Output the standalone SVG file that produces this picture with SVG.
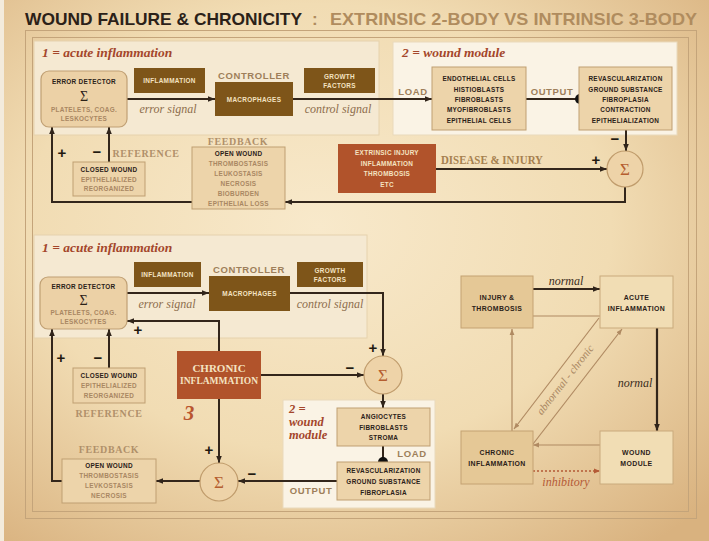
<svg xmlns="http://www.w3.org/2000/svg" width="709" height="541" viewBox="0 0 709 541">
  <defs>
    <radialGradient id="parchment" cx="0.45" cy="0.42" r="0.75">
      <stop offset="0" stop-color="#f8e9cb"/>
      <stop offset="0.55" stop-color="#f1dcb3"/>
      <stop offset="1" stop-color="#d9b27f"/>
    </radialGradient>
    <marker id="ah" viewBox="0 0 10 10" refX="10" refY="5" markerWidth="7" markerHeight="7" orient="auto" markerUnits="userSpaceOnUse">
      <path d="M0,1 L10,5 L0,9 z" fill="#30241a"/>
    </marker>
    <marker id="aht" viewBox="0 0 10 10" refX="10" refY="5" markerWidth="6" markerHeight="6" orient="auto" markerUnits="userSpaceOnUse">
      <path d="M0,1 L10,5 L0,9 z" fill="#b08a62"/>
    </marker>
    <marker id="ahr" viewBox="0 0 10 10" refX="10" refY="5" markerWidth="6" markerHeight="6" orient="auto" markerUnits="userSpaceOnUse">
      <path d="M0,1 L10,5 L0,9 z" fill="#b45a36"/>
    </marker>
    <style>
      .title { font-family: "Liberation Sans", Arial, sans-serif; font-weight: bold; font-size: 17px; }
      .sm { font-family: "Liberation Sans", Arial, sans-serif; font-weight: bold; font-size: 6.4px; letter-spacing: 0.3px; text-anchor: middle; }
      .dk { fill: #2b2118; }
      .tn { fill: #a98762; }
      .cr { fill: #f4e3c2; }
      .hd { font-family: "Liberation Sans", Arial, sans-serif; font-weight: bold; font-size: 9.5px; letter-spacing: 0.6px; fill: #9e7f5a; text-anchor: middle; }
      .sh { font-family: "Liberation Serif", "Times New Roman", serif; font-weight: bold; font-size: 10px; letter-spacing: 0.6px; fill: #b0906a; text-anchor: middle; }
      .it { font-family: "Liberation Serif", "Times New Roman", serif; font-style: italic; font-size: 12px; fill: #8e6e4d; text-anchor: middle; }
      .mod { font-family: "Liberation Serif", "Times New Roman", serif; font-style: italic; font-weight: bold; font-size: 13.5px; fill: #a4462b; }
      .modsm { font-family: "Liberation Serif", "Times New Roman", serif; font-style: italic; font-weight: bold; font-size: 12.5px; fill: #a4462b; }
      .sig { font-family: "Liberation Sans", Arial, sans-serif; font-weight: bold; font-size: 15px; fill: #22190f; text-anchor: middle; }
      .sum { font-family: "Liberation Serif", "Times New Roman", serif; font-size: 17px; fill: #b55e30; text-anchor: middle; }
      .sumd { font-family: "Liberation Serif", "Times New Roman", serif; font-size: 14px; fill: #2b2118; text-anchor: middle; }
      .box { fill: #edd4aa; stroke: #bf9f72; stroke-width: 1; }
      .brown { fill: #7e5519; }
      .rust { fill: #b1532b; }
      .det { fill: #ecd1a6; stroke: #c0a074; stroke-width: 1.2; }
      .circ { fill: #eed3a8; stroke: #c09c6c; stroke-width: 1.2; }
      .wire { fill: none; stroke: #33261b; stroke-width: 2; }
      .thin { fill: none; stroke: #b08a62; stroke-width: 1.2; }
      .gdark { fill: #e5c896; stroke: #c4a272; stroke-width: 1; }
      .glight { fill: #f1ddb4; stroke: #c9aa7c; stroke-width: 1; }
      .gt { font-family: "Liberation Sans", Arial, sans-serif; font-weight: bold; font-size: 6.9px; letter-spacing: 0.4px; fill: #2b2118; text-anchor: middle; }
    </style>
  </defs>

  <!-- paper and frame -->
  <rect x="0" y="0" width="709" height="541" fill="url(#parchment)"/>
  <rect x="0" y="0" width="4" height="541" fill="#f3ebdc"/>
  <g id="frame" fill="none" stroke="#c4a47a" stroke-width="1">
    <rect x="25.5" y="30.5" width="671" height="488"/>
    <rect x="32.5" y="37.5" width="656" height="474"/>
  </g>

  <!-- heading -->
  <g id="heading">
    <text class="title" x="25" y="25" fill="#2b2118" textLength="277" lengthAdjust="spacingAndGlyphs">WOUND FAILURE &amp; CHRONICITY</text>
    <text class="title" x="312" y="25" fill="#b08c5e">:</text>
    <text class="title" x="330" y="25" fill="#b08c5e" textLength="367" lengthAdjust="spacingAndGlyphs">EXTRINSIC 2-BODY  VS  INTRINSIC 3-BODY</text>
  </g>

  <!-- module panels -->
  <g id="panels">
    <rect x="34" y="41" width="345" height="94" fill="#f5e9d2" stroke="#e6d2ad" stroke-width="1"/>
    <rect x="393" y="42" width="284" height="93" fill="#faf3e5" stroke="#e9d9bb" stroke-width="1"/>
    <rect x="34" y="235" width="333" height="103" fill="#f5e9d2" stroke="#e6d2ad" stroke-width="1"/>
    <rect x="283" y="400" width="152" height="108" fill="#faf3e5" stroke="#e9d9bb" stroke-width="1"/>
    <text class="mod" x="42" y="57">1 = acute inflammation</text>
    <text class="mod" x="402" y="57">2 = wound module</text>
    <text class="mod" x="42" y="252">1 = acute inflammation</text>
    <text class="modsm" x="289" y="413">2 =</text>
    <text class="modsm" x="289" y="426">wound</text>
    <text class="modsm" x="289" y="439">module</text>
  </g>

  <!-- connectors -->
  <g id="connectors">
    <!-- extrinsic loop -->
    <path class="wire" d="M127,99 H215" marker-end="url(#ah)"/>
    <path class="wire" d="M293,99 H432" marker-end="url(#ah)"/>
    <path class="wire" d="M526,99 H578"/>
    <path class="wire" d="M626,130 V151" marker-end="url(#ah)"/>
    <path class="wire" d="M436,169 H607" marker-end="url(#ah)"/>
    <path class="wire" d="M625,187 V202 H285" marker-end="url(#ah)"/>
    <path class="wire" d="M192,202 H52 V127" marker-end="url(#ah)"/>
    <path class="wire" d="M109,162 V127" marker-end="url(#ah)"/>
    <!-- intrinsic loop -->
    <path class="wire" d="M127,293 H209" marker-end="url(#ah)"/>
    <path class="wire" d="M290,293 H383 V356" marker-end="url(#ah)"/>
    <path class="wire" d="M261,375 H364" marker-end="url(#ah)"/>
    <path class="wire" d="M219,351 V321 H127" marker-end="url(#ah)"/>
    <path class="wire" d="M219,399 V463" marker-end="url(#ah)"/>
    <path class="wire" d="M383,394 V408" marker-end="url(#ah)"/>
    <path class="wire" d="M383,446 V460"/>
    <path class="wire" d="M337,481 H238" marker-end="url(#ah)"/>
    <path class="wire" d="M200,481 H156" marker-end="url(#ah)"/>
    <path class="wire" d="M62,481 H52 V329" marker-end="url(#ah)"/>
    <path class="wire" d="M109,368 V329" marker-end="url(#ah)"/>
    <circle cx="580" cy="99" r="5" fill="#111"/>
    <circle cx="383" cy="462" r="5" fill="#111"/>
    <!-- state graph -->
    <path fill="none" stroke="#33261b" stroke-width="2.2" d="M533,289 H600" marker-end="url(#ah)"/>
    <path class="thin" d="M533,316 H600"/>
    <path fill="none" stroke="#33261b" stroke-width="2.2" d="M657,328 V431" marker-end="url(#ah)"/>
    <path class="thin" d="M599,318 L514,429" marker-end="url(#aht)"/>
    <path class="thin" d="M533,444 L622,329" marker-end="url(#aht)"/>
    <path class="thin" d="M512,431 V329" marker-end="url(#aht)"/>
    <path class="thin" d="M600,445 H533" marker-end="url(#aht)"/>
    <path fill="none" stroke="#b45a36" stroke-width="1.4" stroke-dasharray="2,2" d="M533,471 H600" marker-end="url(#ahr)"/>
  </g>

  <!-- extrinsic two-body loop -->
  <g id="error-detector-1">
    <rect class="det" x="41" y="71" width="86" height="56" rx="8"/>
    <text class="sm dk" x="84" y="84">ERROR DETECTOR</text>
    <text class="sumd" x="84" y="101">Σ</text>
    <text class="sm tn" x="84" y="112">PLATELETS, COAG.</text>
    <text class="sm tn" x="84" y="121">LESKOCYTES</text>
  </g>
  <g id="inflammation-1">
    <rect class="brown" x="134" y="68" width="71" height="25"/>
    <text class="sm cr" x="169.5" y="83">INFLAMMATION</text>
  </g>
  <g id="controller-1">
    <text class="hd" x="254" y="79">CONTROLLER</text>
    <rect class="brown" x="215" y="82" width="78" height="34"/>
    <text class="sm cr" x="254" y="101.5">MACROPHAGES</text>
  </g>
  <g id="growth-factors-1">
    <rect class="brown" x="304" y="68" width="71" height="25"/>
    <text class="sm cr" x="339.5" y="79">GROWTH</text>
    <text class="sm cr" x="339.5" y="88">FACTORS</text>
  </g>
  <text class="it" x="168" y="113">error  signal</text>
  <text class="it" x="338" y="113">control  signal</text>

  <g id="wound-cells-1">
    <rect class="box" x="432" y="67" width="94" height="63"/>
    <text class="sm dk" x="479" y="81">ENDOTHELIAL CELLS</text>
    <text class="sm dk" x="479" y="91.5">HISTIOBLASTS</text>
    <text class="sm dk" x="479" y="102">FIBROBLASTS</text>
    <text class="sm dk" x="479" y="112">MYOFIBROBLASTS</text>
    <text class="sm dk" x="479" y="122.5">EPITHELIAL CELLS</text>
  </g>
  <text class="hd" x="413" y="95">LOAD</text>
  <text class="hd" x="552" y="95">OUTPUT</text>
  <g id="wound-output-1">
    <rect class="box" x="579" y="67" width="93" height="63"/>
    <text class="sm dk" x="625.5" y="81">REVASCULARIZATION</text>
    <text class="sm dk" x="625.5" y="91.5">GROUND SUBSTANCE</text>
    <text class="sm dk" x="625.5" y="102">FIBROPLASIA</text>
    <text class="sm dk" x="625.5" y="112">CONTRACTION</text>
    <text class="sm dk" x="625.5" y="122.5">EPITHELIALIZATION</text>
  </g>
  <g id="sum-1">
    <circle class="circ" cx="625" cy="169" r="18"/>
    <text class="sum" x="625" y="175">Σ</text>
  </g>
  <g id="extrinsic-injury">
    <rect class="rust" x="338" y="144" width="98" height="49"/>
    <text class="sm cr" x="387" y="155">EXTRINSIC INJURY</text>
    <text class="sm cr" x="387" y="165.5">INFLAMMATION</text>
    <text class="sm cr" x="387" y="176">THROMBOSIS</text>
    <text class="sm cr" x="387" y="186.5">ETC</text>
  </g>
  <text x="441" y="164" font-family="Liberation Serif, Times New Roman, serif" font-weight="bold" font-size="13.5" fill="#a6804f" textLength="102" lengthAdjust="spacingAndGlyphs">DISEASE &amp; INJURY</text>

  <g id="feedback-1">
    <text class="sh" x="238" y="145">FEEDBACK</text>
    <rect class="box" x="192" y="147" width="93" height="62"/>
    <text class="sm dk" x="238.5" y="156">OPEN WOUND</text>
    <text class="sm tn" x="238.5" y="166">THROMBOSTASIS</text>
    <text class="sm tn" x="238.5" y="176">LEUKOSTASIS</text>
    <text class="sm tn" x="238.5" y="186">NECROSIS</text>
    <text class="sm tn" x="238.5" y="196">BIOBURDEN</text>
    <text class="sm tn" x="238.5" y="206">EPITHELIAL LOSS</text>
  </g>
  <g id="reference-1">
    <text class="sh" x="146" y="157">REFERENCE</text>
    <rect class="box" x="73" y="162" width="72" height="34"/>
    <text class="sm dk" x="109" y="172">CLOSED WOUND</text>
    <text class="sm tn" x="109" y="181.5">EPITHELIALIZED</text>
    <text class="sm tn" x="109" y="191">REORGANIZED</text>
  </g>

  <!-- intrinsic three-body loop -->
  <g id="error-detector-2">
    <rect class="det" x="40" y="277" width="87" height="52" rx="8"/>
    <text class="sm dk" x="83.5" y="289">ERROR DETECTOR</text>
    <text class="sumd" x="83.5" y="305">Σ</text>
    <text class="sm tn" x="83.5" y="315">PLATELETS, COAG.</text>
    <text class="sm tn" x="83.5" y="323.5">LESKOCYTES</text>
  </g>
  <g id="inflammation-2">
    <rect class="brown" x="134" y="262" width="67" height="25"/>
    <text class="sm cr" x="167.5" y="277">INFLAMMATION</text>
  </g>
  <g id="controller-2">
    <text class="hd" x="249" y="273">CONTROLLER</text>
    <rect class="brown" x="209" y="276" width="81" height="35"/>
    <text class="sm cr" x="249.5" y="296">MACROPHAGES</text>
  </g>
  <g id="growth-factors-2">
    <rect class="brown" x="297" y="262" width="66" height="25"/>
    <text class="sm cr" x="330" y="273">GROWTH</text>
    <text class="sm cr" x="330" y="282">FACTORS</text>
  </g>
  <text class="it" x="167" y="308">error  signal</text>
  <text class="it" x="330" y="308">control  signal</text>

  <g id="chronic-inflammation">
    <rect class="rust" x="177" y="351" width="84" height="48"/>
    <text x="219" y="372" font-family="Liberation Serif, Times New Roman, serif" font-weight="bold" font-size="11" fill="#f4e3c2" text-anchor="middle">CHRONIC</text>
    <text x="219" y="384" font-family="Liberation Serif, Times New Roman, serif" font-weight="bold" font-size="11" fill="#f4e3c2" text-anchor="middle" textLength="78" lengthAdjust="spacingAndGlyphs">INFLAMMATION</text>
    <text x="189" y="420" font-family="Liberation Serif, Times New Roman, serif" font-style="italic" font-weight="bold" font-size="21" fill="#b9552f" text-anchor="middle">3</text>
  </g>
  <g id="sum-2">
    <circle class="circ" cx="383" cy="375" r="19"/>
    <text class="sum" x="383" y="381">Σ</text>
  </g>
  <g id="wound-cells-2">
    <rect class="box" x="337" y="408" width="93" height="38"/>
    <text class="sm dk" x="383.5" y="419">ANGIOCYTES</text>
    <text class="sm dk" x="383.5" y="429.5">FIBROBLASTS</text>
    <text class="sm dk" x="383.5" y="440">STROMA</text>
  </g>
  <text class="hd" x="412" y="457">LOAD</text>
  <g id="wound-output-2">
    <rect class="box" x="337" y="462" width="93" height="38"/>
    <text class="sm dk" x="383.5" y="473">REVASCULARIZATION</text>
    <text class="sm dk" x="383.5" y="484">GROUND SUBSTANCE</text>
    <text class="sm dk" x="383.5" y="494.5">FIBROPLASIA</text>
  </g>
  <text class="hd" x="311" y="494">OUTPUT</text>
  <g id="sum-3">
    <circle class="circ" cx="219" cy="482" r="19"/>
    <text class="sum" x="219" y="488">Σ</text>
  </g>
  <g id="feedback-2">
    <text class="sh" x="109" y="453">FEEDBACK</text>
    <rect class="box" x="62" y="459" width="94" height="44"/>
    <text class="sm dk" x="109" y="468">OPEN WOUND</text>
    <text class="sm tn" x="109" y="478">THROMBOSTASIS</text>
    <text class="sm tn" x="109" y="488">LEVKOSTASIS</text>
    <text class="sm tn" x="109" y="498">NECROSIS</text>
  </g>
  <g id="reference-2">
    <rect class="box" x="73" y="368" width="72" height="35"/>
    <text class="sm dk" x="109" y="378">CLOSED WOUND</text>
    <text class="sm tn" x="109" y="388">EPITHELIALIZED</text>
    <text class="sm tn" x="109" y="398">REORGANIZED</text>
    <text class="sh" x="109" y="417">REFERENCE</text>
  </g>

  <!-- sign marks on summing inputs -->
  <g id="signs">
    <text class="sig" x="62" y="158">+</text>
    <text class="sig" x="97" y="157">−</text>
    <text class="sig" x="615" y="144">−</text>
    <text class="sig" x="596" y="165">+</text>
    <text class="sig" x="138" y="335">+</text>
    <text class="sig" x="61" y="363">+</text>
    <text class="sig" x="98" y="363">−</text>
    <text class="sig" x="350" y="373">−</text>
    <text class="sig" x="373" y="353">+</text>
    <text class="sig" x="209" y="455">+</text>
    <text class="sig" x="252" y="479">−</text>
  </g>

  <!-- state graph -->
  <g id="injury-thrombosis">
    <rect class="gdark" x="461" y="276" width="72" height="52"/>
    <text class="gt" x="497" y="300">INJURY &amp;</text>
    <text class="gt" x="497" y="311">THROMBOSIS</text>
  </g>
  <g id="acute-inflammation">
    <rect class="glight" x="600" y="276" width="73" height="52"/>
    <text class="gt" x="636.5" y="300">ACUTE</text>
    <text class="gt" x="636.5" y="311">INFLAMMATION</text>
  </g>
  <g id="chronic-state">
    <rect class="gdark" x="461" y="431" width="72" height="53"/>
    <text class="gt" x="497" y="455">CHRONIC</text>
    <text class="gt" x="497" y="466">INFLAMMATION</text>
  </g>
  <g id="wound-module-state">
    <rect class="glight" x="600" y="431" width="73" height="53"/>
    <text class="gt" x="636.5" y="455">WOUND</text>
    <text class="gt" x="636.5" y="466">MODULE</text>
  </g>
  <g id="graph-labels">
    <text class="it" x="566" y="285" style="fill:#3a2c20">normal</text>
    <text class="it" x="635" y="387" style="fill:#3a2c20">normal</text>
    <text class="it" x="566" y="486" style="fill:#b45a36">inhibitory</text>
    <text class="it" x="0" y="0" style="fill:#a98762;font-size:11px" transform="translate(568,382) rotate(-52)">abnormal - chronic</text>
  </g>
</svg>
